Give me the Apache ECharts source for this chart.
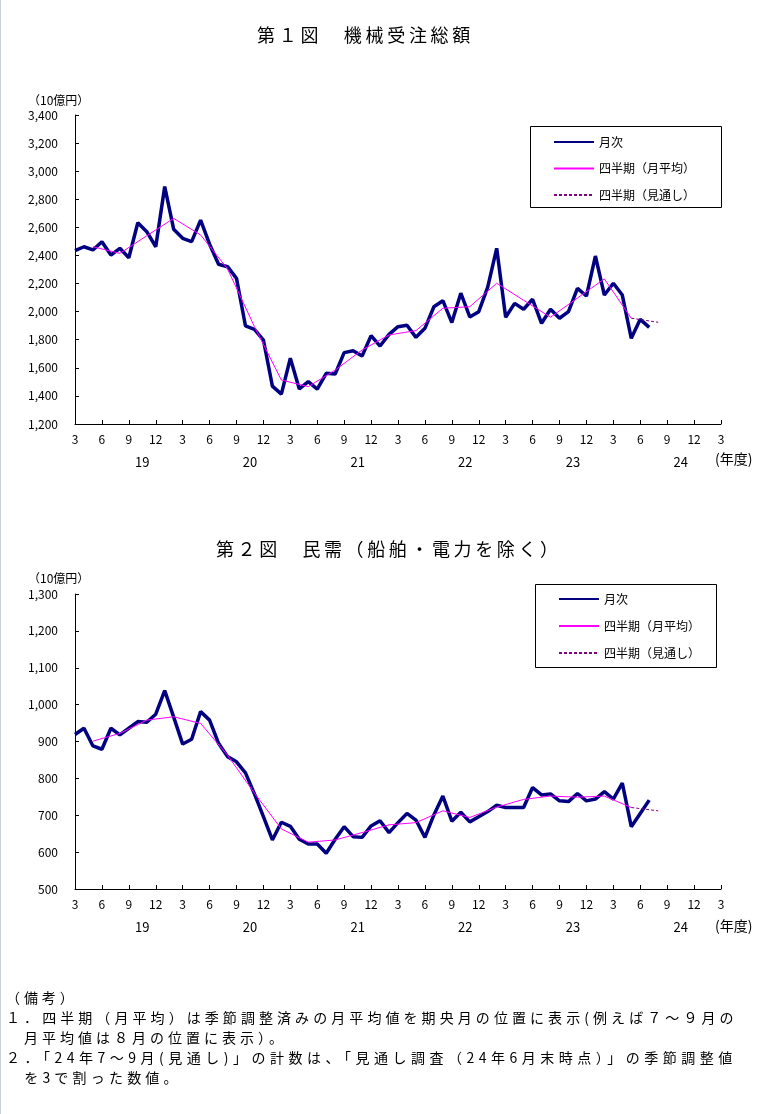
<!DOCTYPE html>
<html><head><meta charset="utf-8">
<script src="https://cdn.jsdelivr.net/npm/echarts@6/dist/echarts.min.js"></script>
<style>
html,body{margin:0;padding:0;background:#fff;}
#wrap{position:relative;width:772px;height:1114px;overflow:hidden;background:#fff;}
#chart{position:absolute;left:0;top:0;width:772px;height:1114px;}
#edge{position:absolute;left:0;top:0;width:1px;height:1114px;background:#c8d0dc;}
.t{position:absolute;font-family:'Noto Sans CJK JP';color:#000;white-space:nowrap;}
.n{position:absolute;left:6px;font-family:'Noto Sans CJK JP';color:#000;white-space:nowrap;font-size:14px;line-height:20px;}
</style></head><body>
<div id="wrap">
<div id="chart"></div>
<div id="edge"></div>
<div class="t" style="left:257px;top:25px;font-size:18px;line-height:18px;letter-spacing:3.7px">第１図　機械受注総額</div>
<div class="t" style="left:216px;top:539px;font-size:18px;line-height:18px;letter-spacing:3.6px">第２図　民需（船舶・電力を除く）</div>
<div class="n" style="top:987px;letter-spacing:3.9px">（備考）</div>
<div class="n" style="top:1007px;letter-spacing:4.07px">１．四半期（月平均）は季節調整済みの月平均値を期央月の位置に表示(例えば７～９月の</div>
<div class="n" style="top:1027px;letter-spacing:4.0px">　月平均値は８月の位置に表示）。</div>
<div class="n" style="top:1047px;letter-spacing:4.5px">２．「24年7～9月(見通し)」の計数は、「見通し調査（24年6月末時点）」の季節調整値</div>
<div class="n" style="top:1067px;letter-spacing:4.2px">　を3で割った数値。</div>
</div>
<script>
// Month labels: Mar 2019 ... Mar 2025
const monthLabels = [3,4,5,6,7,8,9,10,11,12,1,2, 3,4,5,6,7,8,9,10,11,12,1,2, 3,4,5,6,7,8,9,10,11,12,1,2,
  3,4,5,6,7,8,9,10,11,12,1,2, 3,4,5,6,7,8,9,10,11,12,1,2, 3,4,5,6,7,8,9,10,11,12,1,2, 3];
const fyLabels = ['19','20','21','22','23','24'];

// Figure 1: total machinery orders (10 bn yen)
const total_monthly = [2435,2462,2439,2498,2403,2451,2384,2633,2569,2462,2890,2586,
  2522,2498,2652,2480,2337,2320,2237,1898,1874,1798,1470,1413,
  1668,1450,1501,1449,1561,1556,1708,1722,1684,1829,1755,1838,
  1893,1903,1817,1881,2035,2078,1922,2131,1962,2000,2175,2451,
  1960,2059,2017,2088,1917,2017,1953,2000,2166,2111,2396,2118,
  2202,2118,1810,1945,1888];
const total_quarterly = [2462,2415,2540,2664,2546,2305,1893,1513,1466,1584,1727,1834,1865,2024,2035,2202,2081,1960,2097,2233,1953];
const total_outlook = 1924;

// Figure 2: private demand excl. ships & electric power
const private_monthly = [919,936,888,879,936,918,936,954,952,974,1038,966,
  893,906,981,958,895,859,845,815,758,696,633,681,
  670,635,622,622,597,635,669,642,640,671,685,653,
  680,705,687,640,701,752,684,708,682,696,710,727,
  721,721,721,775,755,758,739,737,759,739,744,764,
  744,787,669,705,741];
const private_quarterly = [901,922,958,967,949,863,760,663,627,633,653,674,680,712,694,722,743,752,749,752,721];
const private_outlook = 712;

const yTicks1 = {min:1200, max:3400, interval:200};
const yTicks2 = {min:500, max:1300, interval:100};

function quarterSeries(q){
  const arr = monthLabels.map(()=>null);
  q.forEach((v,k)=>{ arr[2+3*k] = v; });
  return arr;
}
function outlookSeries(q, f){
  const arr = monthLabels.map(()=>null);
  const last = 2+3*(q.length-1);
  arr[last] = q[q.length-1];
  arr[last+3] = f;
  return arr;
}
const FONT = 'Noto Sans CJK JP';
const tickEvery3 = (i)=> i % 3 === 0;
const fyIndex = (i)=> (i - 7) % 12 === 0 && i >= 7;

function monthAxis(g){
  return {
    gridIndex:g, type:'category', data:monthLabels, boundaryGap:false,
    axisLine:{lineStyle:{color:'#000',width:1}},
    axisTick:{inside:true,length:4,interval:tickEvery3,lineStyle:{color:'#000'}},
    axisLabel:{interval:tickEvery3,margin:9,color:'#000',fontFamily:FONT,fontSize:12},
    splitLine:{show:false}
  };
}
function fyAxis(g){
  return {
    gridIndex:g, type:'category', data:monthLabels, boundaryGap:false, position:'bottom', offset:24,
    axisLine:{show:false}, axisTick:{show:false}, splitLine:{show:false},
    axisLabel:{interval:0, color:'#000', fontFamily:FONT, fontSize:13, padding:[0,0,0,9],
      formatter:(v,i)=> fyIndex(i) ? fyLabels[(i-7)/12] : ''}
  };
}
function yAxis(g, t){
  return {
    gridIndex:g, type:'value', min:t.min, max:t.max, interval:t.interval,
    axisLine:{show:true,lineStyle:{color:'#000',width:1}},
    axisTick:{show:true,inside:true,length:4,lineStyle:{color:'#000'}},
    axisLabel:{margin:17,color:'#000',fontFamily:FONT,fontSize:12,
      formatter:(v)=> v.toLocaleString('en-US')},
    splitLine:{show:false}
  };
}
function seriesFor(g, monthly, quarterly, outlook){
  const ax = {xAxisIndex:g*2, yAxisIndex:g};
  return [
    Object.assign({name:'月次',type:'line',data:monthly,symbol:'none',
      lineStyle:{color:'#000080',width:3.5},itemStyle:{color:'#000080'},z:3}, ax),
    Object.assign({name:'四半期（月平均）',type:'line',data:quarterSeries(quarterly),connectNulls:true,symbol:'none',
      lineStyle:{color:'#ff00ff',width:1},itemStyle:{color:'#ff00ff'},z:4}, ax),
    Object.assign({name:'四半期（見通し）',type:'line',data:outlookSeries(quarterly,outlook),connectNulls:true,symbol:'none',
      lineStyle:{color:'#800080',width:1,type:[3,2]},itemStyle:{color:'#800080'},z:4}, ax)
  ];
}
const legendNames = ['月次','四半期（月平均）','四半期（見通し）'];
function legendAt(left, top, gap){
  return {data:legendNames, orient:'vertical', left:left, top:top, itemWidth:40, itemHeight:14, itemGap:gap,
    itemStyle:{opacity:0}, selectedMode:false,
    textStyle:{color:'#000',fontFamily:FONT,fontSize:12}};
}
function txt(x,y,s,size,align){
  return {type:'text', x:x, y:y, style:{text:s, fill:'#000', font:size+'px "'+FONT+'"', align:align||'left', verticalAlign:'middle'}};
}

const chart = echarts.init(document.getElementById('chart'), null, {renderer:'canvas'});
chart.setOption({
  animation:false,
  backgroundColor:'#fff',
  grid:[{left:75, top:115, width:646, height:309},{left:75, top:594, width:646, height:295}],
  xAxis:[monthAxis(0), fyAxis(0), monthAxis(1), fyAxis(1)],
  yAxis:[yAxis(0,yTicks1), yAxis(1,yTicks2)],
  legend:[legendAt(548,131,14.5), legendAt(553,588,15)],
  series:[].concat(seriesFor(0,total_monthly,total_quarterly,total_outlook),
                   seriesFor(1,private_monthly,private_quarterly,private_outlook)),
  graphic:[
    {type:'rect', shape:{x:530.5,y:126.5,width:191,height:81}, style:{fill:null, stroke:'#000', lineWidth:1}},
    {type:'rect', shape:{x:535.5,y:584.5,width:181,height:83}, style:{fill:null, stroke:'#000', lineWidth:1}},
    txt(28,100,'（10億円）',12),
    txt(28,578,'（10億円）',12),
    txt(715,459,'(年度)',14),
    txt(715,926,'(年度)',14)
  ]
});
</script>
</body></html>
